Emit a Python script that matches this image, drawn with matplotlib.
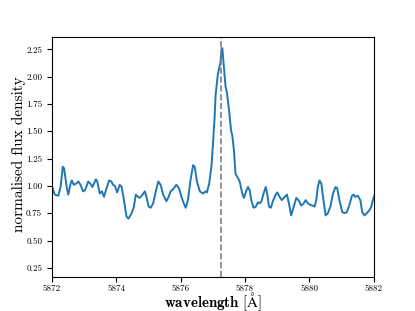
import matplotlib
matplotlib.use("Agg")
import matplotlib.pyplot as plt
import numpy as np

wavelength = [
    5872.00, 5872.09, 5872.20, 5872.27, 5872.34, 5872.38, 5872.46, 5872.51, 5872.58, 5872.62,
    5872.68, 5872.75, 5872.83, 5872.89, 5872.97, 5873.03, 5873.13, 5873.20, 5873.26, 5873.37,
    5873.41, 5873.49, 5873.56, 5873.62, 5873.68, 5873.78, 5873.85, 5873.90, 5873.96, 5874.03,
    5874.11, 5874.17, 5874.24, 5874.32, 5874.38, 5874.48, 5874.55, 5874.61, 5874.68, 5874.73,
    5874.82, 5874.89, 5874.94, 5875.01, 5875.07, 5875.15, 5875.23, 5875.31, 5875.38, 5875.46,
    5875.56, 5875.63, 5875.69, 5875.77, 5875.87, 5875.95, 5876.03, 5876.10, 5876.16, 5876.23,
    5876.31, 5876.39, 5876.44, 5876.51, 5876.60, 5876.70, 5876.78, 5876.82, 5876.89, 5876.96,
    5877.01, 5877.06, 5877.09, 5877.16, 5877.24, 5877.28, 5877.30, 5877.34, 5877.40, 5877.44,
    5877.51, 5877.57, 5877.61, 5877.66, 5877.71, 5877.77, 5877.84, 5877.92, 5877.97, 5878.05,
    5878.10, 5878.15, 5878.20, 5878.27, 5878.34, 5878.41, 5878.46, 5878.52, 5878.58, 5878.65,
    5878.70, 5878.75, 5878.81, 5878.87, 5878.96, 5879.01, 5879.08, 5879.15, 5879.24, 5879.31,
    5879.37, 5879.44, 5879.52, 5879.60, 5879.68, 5879.75, 5879.83, 5879.89, 5879.96, 5880.04,
    5880.11, 5880.17, 5880.22, 5880.27, 5880.32, 5880.38, 5880.43, 5880.51, 5880.58, 5880.66,
    5880.74, 5880.82, 5880.87, 5880.94, 5881.03, 5881.10, 5881.17, 5881.25, 5881.33, 5881.38,
    5881.43, 5881.51, 5881.59, 5881.65, 5881.72, 5881.79, 5881.88, 5881.93, 5881.98, 5882.05,
]
flux = [
    1.00, 0.92, 0.91, 0.99, 1.175, 1.16, 0.99, 0.92, 1.02, 1.05,
    1.01, 1.02, 1.04, 1.01, 0.95, 0.96, 1.04, 1.02, 0.99, 1.06,
    1.04, 0.93, 0.95, 0.90, 0.96, 1.05, 1.04, 1.01, 1.00, 0.94,
    1.01, 0.99, 0.87, 0.72, 0.70, 0.75, 0.81, 0.92, 0.90, 0.89,
    0.92, 0.95, 0.90, 0.81, 0.80, 0.84, 0.95, 1.04, 1.01, 0.92,
    0.86, 0.90, 0.95, 0.97, 1.01, 0.98, 0.90, 0.84, 0.80, 0.87,
    1.05, 1.19, 1.175, 1.04, 0.95, 0.93, 0.95, 0.94, 1.02, 1.175,
    1.39, 1.63, 1.83, 2.02, 2.13, 2.26, 2.26, 2.12, 1.91, 1.86,
    1.69, 1.51, 1.46, 1.33, 1.11, 1.08, 1.04, 0.93, 0.89, 0.96,
    0.99, 0.96, 0.87, 0.80, 0.81, 0.85, 0.84, 0.86, 0.93, 0.99,
    0.92, 0.81, 0.80, 0.86, 0.92, 0.94, 0.90, 0.87, 0.90, 0.92,
    0.84, 0.73, 0.81, 0.89, 0.865, 0.82, 0.84, 0.87, 0.84, 0.825,
    0.82, 0.81, 0.87, 0.99, 1.05, 1.02, 0.90, 0.73, 0.75, 0.81,
    0.93, 0.99, 0.98, 0.87, 0.76, 0.75, 0.76, 0.825, 0.91, 0.92,
    0.90, 0.91, 0.87, 0.76, 0.73, 0.75, 0.78, 0.81, 0.87, 0.93,
]
line_center = 5877.25
x_ticks = [5872, 5874, 5876, 5878, 5880, 5882]
y_ticks = [0.25, 0.50, 0.75, 1.00, 1.25, 1.50, 1.75, 2.00, 2.25]

plt.rcParams['font.family'] = 'serif'
plt.rcParams['font.serif'] = ['cmr10']
plt.rcParams['mathtext.fontset'] = 'cm'
plt.rcParams['axes.formatter.use_mathtext'] = True

fig, ax = plt.subplots(figsize=(4.15, 3.11), dpi=100)
ax.plot(wavelength, flux, color='#1f77b4', lw=1.4)
ax.axvline(line_center, color='grey', ls='--', lw=1.2)
ax.set_xlim(5872, 5882)
ax.set_ylim(0.168, 2.36)
ax.set_xticks(x_ticks)
ax.set_xticklabels([str(t) for t in x_ticks])
ax.set_yticks(y_ticks)
ax.set_yticklabels([f"{t:.2f}" for t in y_ticks])
ax.tick_params(labelsize=6.5)
ax.tick_params(axis='x', pad=2)
ax.set_xlabel(r'$\mathbf{wavelength}\ [\mathrm{\AA}]$', fontsize=10.8, va='baseline')
ax.xaxis.set_label_coords(0.5, -0.125)
ax.set_ylabel('normalised flux density', fontsize=11)
ax.yaxis.set_label_coords(-0.08, 0.51)
fig.savefig('out.png', dpi=100)
